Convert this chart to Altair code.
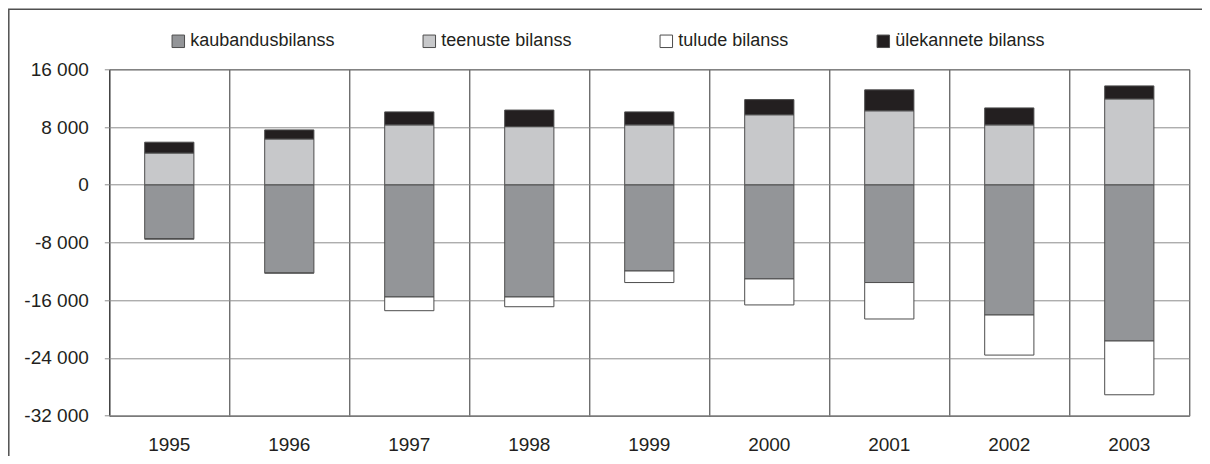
import altair as alt
import pandas as pd

years = ["1995", "1996", "1997", "1998", "1999", "2000", "2001", "2002", "2003"]
series = ["kaubandusbilanss", "teenuste bilanss", "tulude bilanss", "ülekannete bilanss"]
colors = ["#939598", "#c7c8ca", "#ffffff", "#231f20"]

kaubandus = [-7450, -12200, -15550, -15550, -11950, -13050, -13550, -18050, -21650]
teenused = [4400, 6350, 8300, 8050, 8300, 9700, 10250, 8300, 11900]
tulud = [-100, -50, -1900, -1350, -1600, -3600, -5050, -5550, -7450]
ulekanded = [1500, 1250, 1800, 2300, 1800, 2100, 2900, 2350, 1800]

y_ticks = [-32000, -24000, -16000, -8000, 0, 8000, 16000]

rows = []
for vals, name, o in zip([kaubandus, teenused, tulud, ulekanded], series, range(4)):
    for yr, v in zip(years, vals):
        rows.append({"aasta": yr, "seeria": name, "vaartus": v, "ord": o})
df = pd.DataFrame(rows)

FONT = "Liberation Sans"

frame = alt.Chart(alt.Data(values=[{"a": 1}])).mark_rect(
    fill=None, stroke="#505050", strokeWidth=1.5
).encode(
    x=alt.value(-100.5), x2=alt.value(1110), y=alt.value(-60), y2=alt.value(430)
)

bars = alt.Chart(df).mark_bar(
    stroke="#4d4d4d", strokeWidth=1, width={"band": 0.41}
).encode(
    x=alt.X(
        "aasta:N",
        sort=years,
        scale=alt.Scale(paddingInner=0, paddingOuter=0),
        axis=alt.Axis(
            title=None, labelAngle=0, ticks=False, tickSize=0, domain=False,
            grid=True, bandPosition=0, gridColor="#333333", gridWidth=1,
            labelFont=FONT, labelFontSize=19, labelColor="#231f20",
            labelPadding=20,
        ),
    ),
    y=alt.Y(
        "vaartus:Q",
        stack="zero",
        scale=alt.Scale(domain=[-32000, 16000], nice=False),
        axis=alt.Axis(
            title=None, values=y_ticks, domain=False,
            grid=True, gridColor="#8c8c8c", gridWidth=1,
            tickColor="#8c8c8c", tickSize=5,
            labelFont=FONT, labelFontSize=19, labelColor="#231f20",
            labelPadding=16,
            labelExpr="datum.value == 0 ? '0' : (datum.value < 0 ? '-' : '') + format(abs(datum.value) / 1000, 'd') + ' 000'",
        ),
    ),
    color=alt.Color(
        "seeria:N",
        scale=alt.Scale(domain=series, range=colors),
        legend=alt.Legend(
            title=None, orient="none", legendX=60, legendY=-37,
            direction="horizontal", columns=4, columnPadding=85,
            gridAlign="none",
            symbolType="square", symbolSize=156,
            symbolStrokeColor="#4d4d4d", symbolStrokeWidth=1,
            labelFont=FONT, labelFontSize=18, labelColor="#231f20",
            labelOffset=3, labelLimit=300,
        ),
    ),
    order=alt.Order("ord:Q"),
)

chart = alt.layer(frame, bars).properties(
    width=1080,
    height=346.4,
    autosize="none",
    padding={"left": 101.3, "top": 61.3, "right": 12.7, "bottom": 40.3},
    background="white",
).configure_view(
    stroke="#333333", strokeWidth=1
)

chart.save("out.html", embed_options={"renderer": "svg", "actions": False})
